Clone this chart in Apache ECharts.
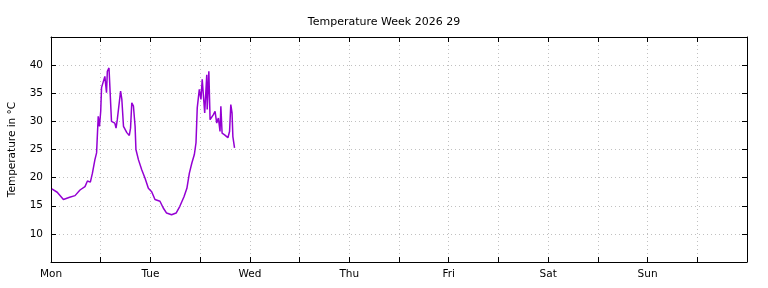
<!DOCTYPE html>
<html style="height: 100%">
<head>
<meta charset="utf-8">
<script type="text/javascript" src="https://cdn.jsdelivr.net/npm/echarts@6/dist/echarts.min.js"></script>
</head>
<body style="width: 100%; height: 100%; margin: 0; background: #fff">
<div id="main" style="width: 768px; height: 288px;"></div>
<script type="text/javascript">

// hours since Monday 00:00
var hours = [0.2, 1.5, 3.0, 4.5, 5.8, 7.0, 8.2, 8.8, 9.5, 10.0, 10.6, 11.0, 11.4, 11.7, 12.0, 12.2, 12.5,
  13.0, 13.4, 13.6, 14.0, 14.3, 14.6, 15.4, 15.7, 16.0, 16.4, 16.8, 17.1, 17.5, 18.3, 18.9, 19.2, 19.5,
  19.9, 20.3, 20.5, 21.1, 21.9, 22.7, 23.5, 24.3, 25.1, 26.3, 27.1, 27.9, 29.1, 30.2, 31.1, 32.1, 32.8,
  33.4, 34.0, 34.6, 35.0, 35.3, 35.8, 36.2, 36.5, 36.8, 37.1, 37.6, 37.7, 38.1, 38.4, 39.2, 39.6, 40.0,
  40.4, 40.8, 41.0, 41.3, 41.9, 42.7, 43.1, 43.4, 43.7, 43.9, 44.1, 44.3];
var temps = [18.0, 17.4, 16.1, 16.5, 16.8, 17.8, 18.4, 19.4, 19.2, 20.8, 23.2, 24.4, 30.9, 29.1, 31.8, 36.0, 36.2,
  38.0, 35.1, 38.9, 39.5, 39.8, 30.0, 29.7, 28.8, 30.3, 30.2, 35.4, 33.9, 29.1, 28.0, 27.5, 28.8, 33.3,
  32.7, 29.1, 25.0, 23.2, 21.4, 19.9, 18.1, 17.5, 16.1, 15.8, 14.6, 13.7, 13.4, 13.7, 14.9, 16.6, 18.1,
  20.8, 22.6, 24.1, 26.2, 32.4, 35.7, 33.9, 37.5, 37.5, 31.5, 38.3, 32.1, 38.9, 30.3, 31.2, 31.8, 29.7,
  30.6, 28.2, 32.7, 27.9, 27.6, 27.1, 28.2, 33.0, 31.5, 27.3, 27.0, 25.3];
var days = ['Mon', 'Tue', 'Wed', 'Thu', 'Fri', 'Sat', 'Sun'];

var points = hours.map(function (h, i) { return [h, temps[i]]; });

var myChart = echarts.init(document.getElementById('main'));

var txt = { fontFamily: 'DejaVu Sans', fontSize: 10.5, color: '#000' };
var border = { show: true, onZero: false, lineStyle: { color: '#000', width: 1 } };
var tick = { show: true, inside: true, length: 5, lineStyle: { color: '#000' } };
var grid = { show: true, lineStyle: { color: '#c0c0c0', type: [1, 3], width: 1 } };

var option = {
  animation: false,
  backgroundColor: '#fff',
  title: {
    text: 'Temperature Week 2026 29',
    left: 'center',
    top: 12,
    textStyle: { fontFamily: 'DejaVu Sans', fontSize: 11, fontWeight: 'normal', color: '#000' }
  },
  grid: { left: 51, right: 21, top: 37, bottom: 26, outerBoundsMode: 'none' },
  xAxis: [
    {
      type: 'value', min: 0, max: 168, interval: 12,
      axisLine: border, axisTick: tick, splitLine: grid,
      axisLabel: Object.assign({
        margin: 7,
        formatter: function (v) { return (v % 24 === 0 && v < 168) ? days[v / 24] : ''; }
      }, txt)
    },
    {
      type: 'value', position: 'top', min: 0, max: 168, interval: 12,
      axisLine: border, axisTick: tick, splitLine: { show: false }, axisLabel: { show: false }
    }
  ],
  yAxis: [
    {
      type: 'value', min: 5, max: 45, interval: 5,
      name: 'Temperature in °C', nameLocation: 'middle', nameGap: 33,
      nameTextStyle: txt,
      axisLine: border, axisTick: tick, splitLine: grid,
      axisLabel: Object.assign({ margin: 8, showMinLabel: false, showMaxLabel: false }, txt)
    },
    {
      type: 'value', position: 'right', min: 5, max: 45, interval: 5,
      axisLine: border, axisTick: tick, splitLine: { show: false }, axisLabel: { show: false }
    }
  ],
  series: [
    {
      type: 'line',
      data: points,
      showSymbol: false,
      lineStyle: { color: '#9400d3', width: 1.5 },
      itemStyle: { color: '#9400d3' }
    }
  ]
};

myChart.setOption(option);
</script>
</body>
</html>
